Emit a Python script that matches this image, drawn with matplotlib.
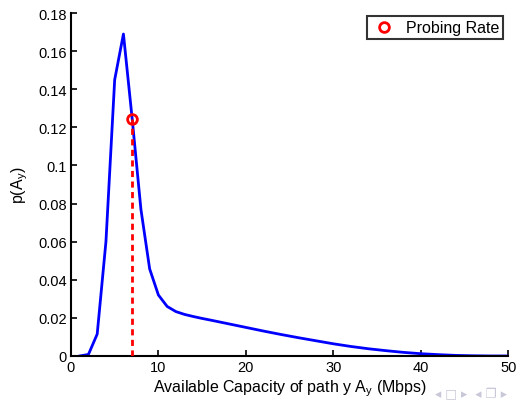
import matplotlib
matplotlib.use("Agg")
import matplotlib.pyplot as plt
from matplotlib.ticker import FixedLocator, FuncFormatter

# Data
x_vals = [1, 2, 3, 4, 5, 6, 7, 8, 9, 10, 11, 12, 13, 14, 15, 16, 18, 20, 22, 24,
          26, 28, 30, 32, 34, 36, 38, 40, 42, 44, 46, 48, 50]
p_vals = [0.0, 0.0008, 0.0115, 0.060, 0.1450, 0.1690, 0.1245, 0.077, 0.0457, 0.032,
          0.026, 0.0233, 0.0218, 0.0207, 0.0197, 0.0188, 0.0169, 0.0150, 0.0131, 0.0113,
          0.0096, 0.0080, 0.0064, 0.0050, 0.0038, 0.0028, 0.0019, 0.0012, 0.0007, 0.0003,
          0.0001, 0.0, 0.0]
probe_x = 7
probe_y = 0.1245
x_ticks = [0, 10, 20, 30, 40, 50]
y_ticks = [0, 0.02, 0.04, 0.06, 0.08, 0.10, 0.12, 0.14, 0.16, 0.18]

plt.rcParams['font.family'] = ['Liberation Sans', 'DejaVu Sans']

fig = plt.figure(figsize=(5.18, 4.02), dpi=100)
ax = fig.add_axes([0.137, 0.112, 0.844, 0.853])

ax.plot(x_vals, p_vals, color='#0000ff', lw=2.0, zorder=2)
ax.plot([probe_x, probe_x], [0, probe_y], color='#ff0000', lw=2.0,
        linestyle=(0, (2.2, 1.6)), zorder=3)
ax.plot([probe_x], [probe_y], 'o', mfc='none', mec='#ff0000', mew=2.0, ms=7,
        label='Probing Rate', zorder=4)

ax.set_xlim(0, 50)
ax.set_ylim(0, 0.18)
ax.xaxis.set_major_locator(FixedLocator(x_ticks))
ax.yaxis.set_major_locator(FixedLocator(y_ticks))
ax.yaxis.set_major_formatter(FuncFormatter(lambda v, p: '0' if v == 0 else ('%g' % round(v, 2))))
ax.tick_params(direction='in', length=4, width=1.2, labelsize=10.5, colors='black', pad=3)
for s in ['top', 'right']:
    ax.spines[s].set_visible(False)
for s in ['left', 'bottom']:
    ax.spines[s].set_linewidth(1.5)

ax.set_xlabel('Available Capacity of path y A$_\\mathregular{y}$ (Mbps)', fontsize=11.5, labelpad=2)
ax.set_ylabel('p(A$_\\mathregular{y}$)', fontsize=11.5, labelpad=6)

leg = ax.legend(loc='upper right', fontsize=11.5, frameon=True, fancybox=False,
                edgecolor='black', borderpad=0.25, handlelength=1.6, handletextpad=0.6,
                borderaxespad=0, bbox_to_anchor=(0.989, 0.99))
leg.get_frame().set_linewidth(1.5)

# beamer navigation symbols (faint)
fig.text(0.84, 0.002, '◂ □ ▸  ◂ ❐ ▸', color='#c8c8d8', fontsize=9,
         family=['DejaVu Sans'], va='bottom')

fig.savefig('out.png', dpi=100)
